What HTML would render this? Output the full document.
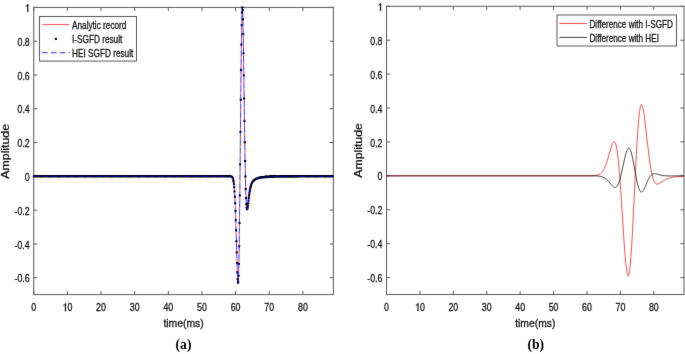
<!DOCTYPE html>
<html><head><meta charset="utf-8"><style>
html,body{margin:0;padding:0;background:#fff;}
svg{display:block;}
text{font-family:"Liberation Sans",sans-serif;fill:#111;stroke:#111;stroke-width:0.28px;}
text.lab{font-family:"Liberation Serif",serif;font-weight:bold;fill:#000;stroke:none;}
</style></head><body>
<svg width="685" height="354" viewBox="0 0 685 354">
<defs><filter id="sm" filterUnits="userSpaceOnUse" x="0" y="0" width="685" height="354" color-interpolation-filters="sRGB"><feConvolveMatrix order="3" kernelMatrix="0.0049 0.0602 0.0049 0.0602 0.7396 0.0602 0.0049 0.0602 0.0049" preserveAlpha="false" edgeMode="duplicate"/></filter></defs><g filter="url(#sm)">
<rect width="685" height="354" fill="#fff"/>
<path d="M33.75 294.6V291M33.75 7.4V11M67.39 294.6V291M67.39 7.4V11M101.04 294.6V291M101.04 7.4V11M134.68 294.6V291M134.68 7.4V11M168.33 294.6V291M168.33 7.4V11M201.97 294.6V291M201.97 7.4V11M235.61 294.6V291M235.61 7.4V11M269.26 294.6V291M269.26 7.4V11M302.9 294.6V291M302.9 7.4V11M33.75 277.71H37.35M333.35 277.71H329.75M33.75 243.92H37.35M333.35 243.92H329.75M33.75 210.13H37.35M333.35 210.13H329.75M33.75 176.34H37.35M333.35 176.34H329.75M33.75 142.55H37.35M333.35 142.55H329.75M33.75 108.76H37.35M333.35 108.76H329.75M33.75 74.98H37.35M333.35 74.98H329.75M33.75 41.19H37.35M333.35 41.19H329.75M33.75 7.4H37.35M333.35 7.4H329.75" stroke="#5a5a5a" stroke-width="1.0" fill="none"/>
<rect x="33.75" y="7.4" width="299.6" height="287.2" stroke="#5a5a5a" stroke-width="1.0" fill="none"/>
<text transform="translate(33.75 311.2) scale(0.79 1)" text-anchor="middle" font-size="11.2">0</text>
<g transform="translate(67.39 311.2) scale(0.79 1)"><path d="M-1.83,0.00 -1.83,-8.02 -2.67,-8.02 -2.87,-7.53 -3.26,-7.03 -3.99,-6.61 -5.00,-6.25 -5.00,-5.51 -4.10,-5.85 -3.48,-6.18 -3.04,-6.61 -3.04,0.00Z" fill="#111" stroke="#111" stroke-width="0.28"/><text x="0" y="0" font-size="11.2">0</text></g>
<text transform="translate(101.04 311.2) scale(0.79 1)" text-anchor="middle" font-size="11.2">20</text>
<text transform="translate(134.68 311.2) scale(0.79 1)" text-anchor="middle" font-size="11.2">30</text>
<text transform="translate(168.33 311.2) scale(0.79 1)" text-anchor="middle" font-size="11.2">40</text>
<text transform="translate(201.97 311.2) scale(0.79 1)" text-anchor="middle" font-size="11.2">50</text>
<text transform="translate(235.61 311.2) scale(0.79 1)" text-anchor="middle" font-size="11.2">60</text>
<text transform="translate(269.26 311.2) scale(0.79 1)" text-anchor="middle" font-size="11.2">70</text>
<text transform="translate(302.9 311.2) scale(0.79 1)" text-anchor="middle" font-size="11.2">80</text>
<text transform="translate(29.75 282.36) scale(0.79 1)" text-anchor="end" font-size="11.2">-0.6</text>
<text transform="translate(29.75 248.57) scale(0.79 1)" text-anchor="end" font-size="11.2">-0.4</text>
<text transform="translate(29.75 214.78) scale(0.79 1)" text-anchor="end" font-size="11.2">-0.2</text>
<text transform="translate(29.75 180.99) scale(0.79 1)" text-anchor="end" font-size="11.2">0</text>
<text transform="translate(29.75 147.2) scale(0.79 1)" text-anchor="end" font-size="11.2">0.2</text>
<text transform="translate(29.75 113.41) scale(0.79 1)" text-anchor="end" font-size="11.2">0.4</text>
<text transform="translate(29.75 79.63) scale(0.79 1)" text-anchor="end" font-size="11.2">0.6</text>
<text transform="translate(29.75 45.84) scale(0.79 1)" text-anchor="end" font-size="11.2">0.8</text>
<g transform="translate(29.75 12.05) scale(0.79 1)"><path d="M-1.83,0.00 -1.83,-8.02 -2.67,-8.02 -2.87,-7.53 -3.26,-7.03 -3.99,-6.61 -5.00,-6.25 -5.00,-5.51 -4.10,-5.85 -3.48,-6.18 -3.04,-6.61 -3.04,0.00Z" fill="#111" stroke="#111" stroke-width="0.28"/></g>
<text transform="translate(183.55 327.1) scale(0.9 1)" text-anchor="middle" font-size="11.5">time(ms)</text>
<text transform="translate(9 151.3) rotate(-90) scale(1 0.86)" text-anchor="middle" font-size="12.3">Amplitude</text>
<path d="M33.75,176.34 228.48,176.34 230.63,176.40 231.17,176.50 231.64,176.68 231.98,176.92 232.25,177.21 232.72,178.04 233.12,179.28 233.46,180.84 233.80,183.09 234.13,186.20 234.67,193.53 235.14,202.84 235.61,215.15 237.36,273.23 237.70,280.21 237.90,282.43 238.04,282.93 238.17,282.55 238.24,282.01 238.37,280.19 238.64,273.43 238.91,262.31 239.18,246.80 239.72,203.93 240.86,87.64 241.33,46.64 241.60,28.83 241.87,16.13 242.07,10.25 242.21,8.11 242.34,7.40 242.41,7.57 242.54,8.94 242.75,13.43 243.22,33.85 244.77,141.72 245.44,178.50 245.77,191.23 246.11,200.22 246.51,206.59 246.72,208.26 246.92,209.08 247.05,209.24 247.25,208.97 247.59,207.50 248.00,204.67 249.07,195.77 249.61,191.98 250.35,187.98 251.16,184.98 251.63,183.72 252.17,182.60 252.71,181.71 253.38,180.86 254.12,180.13 254.93,179.53 255.87,178.98 256.94,178.51 258.09,178.14 259.43,177.80 262.73,177.29 267.04,176.93 272.82,176.69 280.56,176.54 291.53,176.45 333.18,176.37" stroke="#ff0000" stroke-width="0.75" stroke-dasharray="0 5.8 3.06 0" fill="none"/>
<path d="M33.84 176.34h0M34.15 176.34h0M34.46 176.34h0M34.77 176.34h0M35.08 176.34h0M35.39 176.34h0M35.70 176.34h0M36.01 176.34h0M36.32 176.34h0M36.63 176.34h0M36.94 176.34h0M37.25 176.34h0M37.56 176.34h0M37.87 176.34h0M38.18 176.34h0M38.49 176.34h0M38.80 176.34h0M39.11 176.34h0M39.42 176.34h0M39.73 176.34h0M40.04 176.34h0M40.35 176.34h0M40.66 176.34h0M40.97 176.34h0M41.28 176.34h0M41.59 176.34h0M41.90 176.34h0M42.21 176.34h0M42.52 176.34h0M42.83 176.34h0M43.14 176.34h0M43.45 176.34h0M43.77 176.34h0M44.08 176.34h0M44.39 176.34h0M44.70 176.34h0M45.01 176.34h0M45.32 176.34h0M45.63 176.34h0M45.94 176.34h0M46.25 176.34h0M46.56 176.34h0M46.87 176.34h0M47.18 176.34h0M47.49 176.34h0M47.80 176.34h0M48.11 176.34h0M48.42 176.34h0M48.73 176.34h0M49.04 176.34h0M49.35 176.34h0M49.66 176.34h0M49.97 176.34h0M50.28 176.34h0M50.59 176.34h0M50.90 176.34h0M51.21 176.34h0M51.52 176.34h0M51.83 176.34h0M52.14 176.34h0M52.45 176.34h0M52.76 176.34h0M53.07 176.34h0M53.38 176.34h0M53.69 176.34h0M54.00 176.34h0M54.31 176.34h0M54.62 176.34h0M54.93 176.34h0M55.24 176.34h0M55.55 176.34h0M55.86 176.34h0M56.17 176.34h0M56.48 176.34h0M56.79 176.34h0M57.10 176.34h0M57.41 176.34h0M57.72 176.34h0M58.03 176.34h0M58.34 176.34h0M58.65 176.34h0M58.96 176.34h0M59.28 176.34h0M59.59 176.34h0M59.90 176.34h0M60.21 176.34h0M60.52 176.34h0M60.83 176.34h0M61.14 176.34h0M61.45 176.34h0M61.76 176.34h0M62.07 176.34h0M62.38 176.34h0M62.69 176.34h0M63.00 176.34h0M63.31 176.34h0M63.62 176.34h0M63.93 176.34h0M64.24 176.34h0M64.55 176.34h0M64.86 176.34h0M65.17 176.34h0M65.48 176.34h0M65.79 176.34h0M66.10 176.34h0M66.41 176.34h0M66.72 176.34h0M67.03 176.34h0M67.34 176.34h0M67.65 176.34h0M67.96 176.34h0M68.27 176.34h0M68.58 176.34h0M68.89 176.34h0M69.20 176.34h0M69.51 176.34h0M69.82 176.34h0M70.13 176.34h0M70.44 176.34h0M70.75 176.34h0M71.06 176.34h0M71.37 176.34h0M71.68 176.34h0M71.99 176.34h0M72.30 176.34h0M72.61 176.34h0M72.92 176.34h0M73.23 176.34h0M73.54 176.34h0M73.85 176.34h0M74.16 176.34h0M74.47 176.34h0M74.78 176.34h0M75.10 176.34h0M75.41 176.34h0M75.72 176.34h0M76.03 176.34h0M76.34 176.34h0M76.65 176.34h0M76.96 176.34h0M77.27 176.34h0M77.58 176.34h0M77.89 176.34h0M78.20 176.34h0M78.51 176.34h0M78.82 176.34h0M79.13 176.34h0M79.44 176.34h0M79.75 176.34h0M80.06 176.34h0M80.37 176.34h0M80.68 176.34h0M80.99 176.34h0M81.30 176.34h0M81.61 176.34h0M81.92 176.34h0M82.23 176.34h0M82.54 176.34h0M82.85 176.34h0M83.16 176.34h0M83.47 176.34h0M83.78 176.34h0M84.09 176.34h0M84.40 176.34h0M84.71 176.34h0M85.02 176.34h0M85.33 176.34h0M85.64 176.34h0M85.95 176.34h0M86.26 176.34h0M86.57 176.34h0M86.88 176.34h0M87.19 176.34h0M87.50 176.34h0M87.81 176.34h0M88.12 176.34h0M88.43 176.34h0M88.74 176.34h0M89.05 176.34h0M89.36 176.34h0M89.67 176.34h0M89.98 176.34h0M90.29 176.34h0M90.61 176.34h0M90.92 176.34h0M91.23 176.34h0M91.54 176.34h0M91.85 176.34h0M92.16 176.34h0M92.47 176.34h0M92.78 176.34h0M93.09 176.34h0M93.40 176.34h0M93.71 176.34h0M94.02 176.34h0M94.33 176.34h0M94.64 176.34h0M94.95 176.34h0M95.26 176.34h0M95.57 176.34h0M95.88 176.34h0M96.19 176.34h0M96.50 176.34h0M96.81 176.34h0M97.12 176.34h0M97.43 176.34h0M97.74 176.34h0M98.05 176.34h0M98.36 176.34h0M98.67 176.34h0M98.98 176.34h0M99.29 176.34h0M99.60 176.34h0M99.91 176.34h0M100.22 176.34h0M100.53 176.34h0M100.84 176.34h0M101.15 176.34h0M101.46 176.34h0M101.77 176.34h0M102.08 176.34h0M102.39 176.34h0M102.70 176.34h0M103.01 176.34h0M103.32 176.34h0M103.63 176.34h0M103.94 176.34h0M104.25 176.34h0M104.56 176.34h0M104.87 176.34h0M105.18 176.34h0M105.49 176.34h0M105.80 176.34h0M106.11 176.34h0M106.43 176.34h0M106.74 176.34h0M107.05 176.34h0M107.36 176.34h0M107.67 176.34h0M107.98 176.34h0M108.29 176.34h0M108.60 176.34h0M108.91 176.34h0M109.22 176.34h0M109.53 176.34h0M109.84 176.34h0M110.15 176.34h0M110.46 176.34h0M110.77 176.34h0M111.08 176.34h0M111.39 176.34h0M111.70 176.34h0M112.01 176.34h0M112.32 176.34h0M112.63 176.34h0M112.94 176.34h0M113.25 176.34h0M113.56 176.34h0M113.87 176.34h0M114.18 176.34h0M114.49 176.34h0M114.80 176.34h0M115.11 176.34h0M115.42 176.34h0M115.73 176.34h0M116.04 176.34h0M116.35 176.34h0M116.66 176.34h0M116.97 176.34h0M117.28 176.34h0M117.59 176.34h0M117.90 176.34h0M118.21 176.34h0M118.52 176.34h0M118.83 176.34h0M119.14 176.34h0M119.45 176.34h0M119.76 176.34h0M120.07 176.34h0M120.38 176.34h0M120.69 176.34h0M121.00 176.34h0M121.31 176.34h0M121.62 176.34h0M121.94 176.34h0M122.25 176.34h0M122.56 176.34h0M122.87 176.34h0M123.18 176.34h0M123.49 176.34h0M123.80 176.34h0M124.11 176.34h0M124.42 176.34h0M124.73 176.34h0M125.04 176.34h0M125.35 176.34h0M125.66 176.34h0M125.97 176.34h0M126.28 176.34h0M126.59 176.34h0M126.90 176.34h0M127.21 176.34h0M127.52 176.34h0M127.83 176.34h0M128.14 176.34h0M128.45 176.34h0M128.76 176.34h0M129.07 176.34h0M129.38 176.34h0M129.69 176.34h0M130.00 176.34h0M130.31 176.34h0M130.62 176.34h0M130.93 176.34h0M131.24 176.34h0M131.55 176.34h0M131.86 176.34h0M132.17 176.34h0M132.48 176.34h0M132.79 176.34h0M133.10 176.34h0M133.41 176.34h0M133.72 176.34h0M134.03 176.34h0M134.34 176.34h0M134.65 176.34h0M134.96 176.34h0M135.27 176.34h0M135.58 176.34h0M135.89 176.34h0M136.20 176.34h0M136.51 176.34h0M136.82 176.34h0M137.13 176.34h0M137.44 176.34h0M137.76 176.34h0M138.07 176.34h0M138.38 176.34h0M138.69 176.34h0M139.00 176.34h0M139.31 176.34h0M139.62 176.34h0M139.93 176.34h0M140.24 176.34h0M140.55 176.34h0M140.86 176.34h0M141.17 176.34h0M141.48 176.34h0M141.79 176.34h0M142.10 176.34h0M142.41 176.34h0M142.72 176.34h0M143.03 176.34h0M143.34 176.34h0M143.65 176.34h0M143.96 176.34h0M144.27 176.34h0M144.58 176.34h0M144.89 176.34h0M145.20 176.34h0M145.51 176.34h0M145.82 176.34h0M146.13 176.34h0M146.44 176.34h0M146.75 176.34h0M147.06 176.34h0M147.37 176.34h0M147.68 176.34h0M147.99 176.34h0M148.30 176.34h0M148.61 176.34h0M148.92 176.34h0M149.23 176.34h0M149.54 176.34h0M149.85 176.34h0M150.16 176.34h0M150.47 176.34h0M150.78 176.34h0M151.09 176.34h0M151.40 176.34h0M151.71 176.34h0M152.02 176.34h0M152.33 176.34h0M152.64 176.34h0M152.95 176.34h0M153.26 176.34h0M153.58 176.34h0M153.89 176.34h0M154.20 176.34h0M154.51 176.34h0M154.82 176.34h0M155.13 176.34h0M155.44 176.34h0M155.75 176.34h0M156.06 176.34h0M156.37 176.34h0M156.68 176.34h0M156.99 176.34h0M157.30 176.34h0M157.61 176.34h0M157.92 176.34h0M158.23 176.34h0M158.54 176.34h0M158.85 176.34h0M159.16 176.34h0M159.47 176.34h0M159.78 176.34h0M160.09 176.34h0M160.40 176.34h0M160.71 176.34h0M161.02 176.34h0M161.33 176.34h0M161.64 176.34h0M161.95 176.34h0M162.26 176.34h0M162.57 176.34h0M162.88 176.34h0M163.19 176.34h0M163.50 176.34h0M163.81 176.34h0M164.12 176.34h0M164.43 176.34h0M164.74 176.34h0M165.05 176.34h0M165.36 176.34h0M165.67 176.34h0M165.98 176.34h0M166.29 176.34h0M166.60 176.34h0M166.91 176.34h0M167.22 176.34h0M167.53 176.34h0M167.84 176.34h0M168.15 176.34h0M168.46 176.34h0M168.77 176.34h0M169.09 176.34h0M169.40 176.34h0M169.71 176.34h0M170.02 176.34h0M170.33 176.34h0M170.64 176.34h0M170.95 176.34h0M171.26 176.34h0M171.57 176.34h0M171.88 176.34h0M172.19 176.34h0M172.50 176.34h0M172.81 176.34h0M173.12 176.34h0M173.43 176.34h0M173.74 176.34h0M174.05 176.34h0M174.36 176.34h0M174.67 176.34h0M174.98 176.34h0M175.29 176.34h0M175.60 176.34h0M175.91 176.34h0M176.22 176.34h0M176.53 176.34h0M176.84 176.34h0M177.15 176.34h0M177.46 176.34h0M177.77 176.34h0M178.08 176.34h0M178.39 176.34h0M178.70 176.34h0M179.01 176.34h0M179.32 176.34h0M179.63 176.34h0M179.94 176.34h0M180.25 176.34h0M180.56 176.34h0M180.87 176.34h0M181.18 176.34h0M181.49 176.34h0M181.80 176.34h0M182.11 176.34h0M182.42 176.34h0M182.73 176.34h0M183.04 176.34h0M183.35 176.34h0M183.66 176.34h0M183.97 176.34h0M184.28 176.34h0M184.59 176.34h0M184.91 176.34h0M185.22 176.34h0M185.53 176.34h0M185.84 176.34h0M186.15 176.34h0M186.46 176.34h0M186.77 176.34h0M187.08 176.34h0M187.39 176.34h0M187.70 176.34h0M188.01 176.34h0M188.32 176.34h0M188.63 176.34h0M188.94 176.34h0M189.25 176.34h0M189.56 176.34h0M189.87 176.34h0M190.18 176.34h0M190.49 176.34h0M190.80 176.34h0M191.11 176.34h0M191.42 176.34h0M191.73 176.34h0M192.04 176.34h0M192.35 176.34h0M192.66 176.34h0M192.97 176.34h0M193.28 176.34h0M193.59 176.34h0M193.90 176.34h0M194.21 176.34h0M194.52 176.34h0M194.83 176.34h0M195.14 176.34h0M195.45 176.34h0M195.76 176.34h0M196.07 176.34h0M196.38 176.34h0M196.69 176.34h0M197.00 176.34h0M197.31 176.34h0M197.62 176.34h0M197.93 176.34h0M198.24 176.34h0M198.55 176.34h0M198.86 176.34h0M199.17 176.34h0M199.48 176.34h0M199.79 176.34h0M200.10 176.34h0M200.42 176.34h0M200.73 176.34h0M201.04 176.34h0M201.35 176.34h0M201.66 176.34h0M201.97 176.34h0M202.28 176.34h0M202.59 176.34h0M202.90 176.34h0M203.21 176.34h0M203.52 176.34h0M203.83 176.34h0M204.14 176.34h0M204.45 176.34h0M204.76 176.34h0M205.07 176.34h0M205.38 176.34h0M205.69 176.34h0M206.00 176.34h0M206.31 176.34h0M206.62 176.34h0M206.93 176.34h0M207.24 176.34h0M207.55 176.34h0M207.86 176.34h0M208.17 176.34h0M208.48 176.34h0M208.79 176.34h0M209.10 176.34h0M209.41 176.34h0M209.72 176.34h0M210.03 176.34h0M210.34 176.34h0M210.65 176.34h0M210.96 176.34h0M211.27 176.34h0M211.58 176.34h0M211.89 176.34h0M212.20 176.34h0M212.51 176.34h0M212.82 176.34h0M213.13 176.34h0M213.44 176.34h0M213.75 176.34h0M214.06 176.34h0M214.37 176.34h0M214.68 176.34h0M214.99 176.34h0M215.30 176.34h0M215.61 176.34h0M215.92 176.34h0M216.24 176.34h0M216.55 176.34h0M216.86 176.34h0M217.17 176.34h0M217.48 176.34h0M217.79 176.34h0M218.10 176.34h0M218.41 176.34h0M218.72 176.34h0M219.03 176.34h0M219.34 176.34h0M219.65 176.34h0M219.96 176.34h0M220.27 176.34h0M220.58 176.34h0M220.89 176.34h0M221.20 176.34h0M221.51 176.34h0M221.82 176.34h0M222.13 176.34h0M222.44 176.34h0M222.75 176.34h0M223.06 176.34h0M223.37 176.34h0M223.68 176.34h0M223.99 176.34h0M224.30 176.34h0M224.61 176.34h0M224.92 176.34h0M225.23 176.34h0M225.54 176.34h0M225.85 176.34h0M226.16 176.34h0M226.47 176.34h0M226.78 176.34h0M227.09 176.34h0M227.40 176.34h0M227.71 176.34h0M228.02 176.34h0M228.33 176.34h0M228.64 176.34h0M228.95 176.34h0M229.26 176.35h0M229.57 176.35h0M229.88 176.36h0M230.19 176.37h0M230.50 176.39h0M230.81 176.42h0M231.12 176.48h0M231.43 176.58h0M231.75 176.74h0M232.06 176.99h0M232.37 177.37h0M232.68 177.94h0M232.99 178.79h0M233.30 180.00h0M233.61 181.72h0M233.92 184.08h0M234.23 187.24h0M234.54 191.38h0M234.85 196.65h0M235.16 203.17h0M235.47 211.00h0M235.78 220.10h0M236.09 230.28h0M236.40 241.21h0M236.71 252.37h0M237.02 263.03h0M237.33 272.31h0M237.64 279.22h0M237.95 282.70h0M238.26 281.79h0M238.57 275.67h0M238.88 263.84h0M239.19 246.18h0M239.50 223.06h0M239.81 195.34h0M240.12 164.36h0M240.43 131.83h0M240.74 99.70h0M241.05 70.00h0M241.36 44.60h0M241.67 25.08h0M241.98 12.54h0M242.29 7.50h0M242.60 9.92h0M242.91 19.15h0M243.22 34.11h0M243.53 53.37h0M243.84 75.33h0M244.15 98.40h0M244.46 121.10h0M244.77 142.24h0M245.08 160.90h0M245.39 176.53h0M245.70 188.88h0M246.01 198.00h0M246.32 204.13h0M246.63 207.69h0M246.94 209.14h0M247.25 208.97h0M247.57 207.65h0M247.88 205.59h0M248.19 203.11h0M248.50 200.48h0M248.81 197.88h0M249.12 195.43h0M249.43 193.19h0M249.74 191.20h0M250.05 189.45h0M250.36 187.95h0M250.67 186.65h0M250.98 185.55h0M251.29 184.61h0M251.60 183.80h0M251.91 183.10h0M252.22 182.50h0M252.53 181.98h0M252.84 181.52h0M253.15 181.12h0M253.46 180.77h0M253.77 180.45h0M254.08 180.17h0M254.39 179.91h0M254.70 179.68h0M255.01 179.47h0M255.32 179.28h0M255.63 179.11h0M255.94 178.95h0M256.25 178.80h0M256.56 178.67h0M256.87 178.54h0M257.18 178.43h0M257.49 178.32h0M257.80 178.22h0M258.11 178.13h0M258.42 178.05h0M258.73 177.97h0M259.04 177.89h0M259.35 177.82h0M259.66 177.76h0M259.97 177.70h0M260.28 177.64h0M260.59 177.58h0M260.90 177.53h0M261.21 177.48h0M261.52 177.44h0M261.83 177.40h0M262.14 177.36h0M262.45 177.32h0M262.76 177.28h0M263.08 177.25h0M263.39 177.22h0M263.70 177.18h0M264.01 177.15h0M264.32 177.13h0M264.63 177.10h0M264.94 177.07h0M265.25 177.05h0M265.56 177.03h0M265.87 177.01h0M266.18 176.98h0M266.49 176.96h0M266.80 176.95h0M267.11 176.93h0M267.42 176.91h0M267.73 176.89h0M268.04 176.88h0M268.35 176.86h0M268.66 176.85h0M268.97 176.83h0M269.28 176.82h0M269.59 176.80h0M269.90 176.79h0M270.21 176.78h0M270.52 176.77h0M270.83 176.76h0M271.14 176.75h0M271.45 176.74h0M271.76 176.73h0M272.07 176.72h0M272.38 176.71h0M272.69 176.70h0M273.00 176.69h0M273.31 176.68h0M273.62 176.67h0M273.93 176.66h0M274.24 176.66h0M274.55 176.65h0M274.86 176.64h0M275.17 176.64h0M275.48 176.63h0M275.79 176.62h0M276.10 176.62h0M276.41 176.61h0M276.72 176.60h0M277.03 176.60h0M277.34 176.59h0M277.65 176.59h0M277.96 176.58h0M278.27 176.58h0M278.58 176.57h0M278.90 176.57h0M279.21 176.56h0M279.52 176.56h0M279.83 176.55h0M280.14 176.55h0M280.45 176.55h0M280.76 176.54h0M281.07 176.54h0M281.38 176.53h0M281.69 176.53h0M282.00 176.53h0M282.31 176.52h0M282.62 176.52h0M282.93 176.52h0M283.24 176.51h0M283.55 176.51h0M283.86 176.51h0M284.17 176.50h0M284.48 176.50h0M284.79 176.50h0M285.10 176.50h0M285.41 176.49h0M285.72 176.49h0M286.03 176.49h0M286.34 176.49h0M286.65 176.48h0M286.96 176.48h0M287.27 176.48h0M287.58 176.48h0M287.89 176.47h0M288.20 176.47h0M288.51 176.47h0M288.82 176.47h0M289.13 176.47h0M289.44 176.46h0M289.75 176.46h0M290.06 176.46h0M290.37 176.46h0M290.68 176.46h0M290.99 176.45h0M291.30 176.45h0M291.61 176.45h0M291.92 176.45h0M292.23 176.45h0M292.54 176.45h0M292.85 176.44h0M293.16 176.44h0M293.47 176.44h0M293.78 176.44h0M294.09 176.44h0M294.41 176.44h0M294.72 176.44h0M295.03 176.43h0M295.34 176.43h0M295.65 176.43h0M295.96 176.43h0M296.27 176.43h0M296.58 176.43h0M296.89 176.43h0M297.20 176.43h0M297.51 176.42h0M297.82 176.42h0M298.13 176.42h0M298.44 176.42h0M298.75 176.42h0M299.06 176.42h0M299.37 176.42h0M299.68 176.42h0M299.99 176.42h0M300.30 176.41h0M300.61 176.41h0M300.92 176.41h0M301.23 176.41h0M301.54 176.41h0M301.85 176.41h0M302.16 176.41h0M302.47 176.41h0M302.78 176.41h0M303.09 176.41h0M303.40 176.41h0M303.71 176.41h0M304.02 176.40h0M304.33 176.40h0M304.64 176.40h0M304.95 176.40h0M305.26 176.40h0M305.57 176.40h0M305.88 176.40h0M306.19 176.40h0M306.50 176.40h0M306.81 176.40h0M307.12 176.40h0M307.43 176.40h0M307.74 176.40h0M308.05 176.40h0M308.36 176.39h0M308.67 176.39h0M308.98 176.39h0M309.29 176.39h0M309.60 176.39h0M309.91 176.39h0M310.23 176.39h0M310.54 176.39h0M310.85 176.39h0M311.16 176.39h0M311.47 176.39h0M311.78 176.39h0M312.09 176.39h0M312.40 176.39h0M312.71 176.39h0M313.02 176.39h0M313.33 176.39h0M313.64 176.39h0M313.95 176.39h0M314.26 176.38h0M314.57 176.38h0M314.88 176.38h0M315.19 176.38h0M315.50 176.38h0M315.81 176.38h0M316.12 176.38h0M316.43 176.38h0M316.74 176.38h0M317.05 176.38h0M317.36 176.38h0M317.67 176.38h0M317.98 176.38h0M318.29 176.38h0M318.60 176.38h0M318.91 176.38h0M319.22 176.38h0M319.53 176.38h0M319.84 176.38h0M320.15 176.38h0M320.46 176.38h0M320.77 176.38h0M321.08 176.38h0M321.39 176.38h0M321.70 176.38h0M322.01 176.38h0M322.32 176.37h0M322.63 176.37h0M322.94 176.37h0M323.25 176.37h0M323.56 176.37h0M323.87 176.37h0M324.18 176.37h0M324.49 176.37h0M324.80 176.37h0M325.11 176.37h0M325.42 176.37h0M325.74 176.37h0M326.05 176.37h0M326.36 176.37h0M326.67 176.37h0M326.98 176.37h0M327.29 176.37h0M327.60 176.37h0M327.91 176.37h0M328.22 176.37h0M328.53 176.37h0M328.84 176.37h0M329.15 176.37h0M329.46 176.37h0M329.77 176.37h0M330.08 176.37h0M330.39 176.37h0M330.70 176.37h0M331.01 176.37h0M331.32 176.37h0M331.63 176.37h0M331.94 176.37h0M332.25 176.37h0M332.56 176.37h0M332.87 176.37h0" stroke="#000" stroke-width="2.4" stroke-linecap="round" fill="none"/>
<path d="M33.75,176.34 228.48,176.34 230.63,176.40 231.17,176.50 231.64,176.68 231.98,176.92 232.25,177.21 232.72,178.04 233.12,179.28 233.46,180.84 233.80,183.09 234.13,186.20 234.67,193.53 235.14,202.84 235.61,215.15 237.36,273.23 237.70,280.21 237.90,282.43 238.04,282.93 238.17,282.55 238.24,282.01 238.37,280.19 238.64,273.43 238.91,262.31 239.18,246.80 239.72,203.93 240.86,87.64 241.33,46.64 241.60,28.83 241.87,16.13 242.07,10.25 242.21,8.11 242.34,7.40 242.41,7.57 242.54,8.94 242.75,13.43 243.22,33.85 244.77,141.72 245.44,178.50 245.77,191.23 246.11,200.22 246.51,206.59 246.72,208.26 246.92,209.08 247.05,209.24 247.25,208.97 247.59,207.50 248.00,204.67 249.07,195.77 249.61,191.98 250.35,187.98 251.16,184.98 251.63,183.72 252.17,182.60 252.71,181.71 253.38,180.86 254.12,180.13 254.93,179.53 255.87,178.98 256.94,178.51 258.09,178.14 259.43,177.80 262.73,177.29 267.04,176.93 272.82,176.69 280.56,176.54 291.53,176.45 333.18,176.37" stroke="#0000ff" stroke-width="0.8" stroke-dasharray="5.8 3.06" fill="none"/>
<rect x="39.5" y="16.5" width="97" height="44.6" fill="#fff" stroke="#5a5a5a" stroke-width="1.0"/>
<path d="M42.2 24.5H69.5" stroke="#ff5a5a" stroke-width="1.1"/>
<path d="M55.9 38.9h0" stroke="#000" stroke-width="2.4" stroke-linecap="round"/>
<path d="M42.0 52.6H70.0" stroke="#5a5aff" stroke-width="1.1" stroke-dasharray="5.6 3.3"/>
<text transform="translate(72.0 28.8) scale(0.8 1)" font-size="10.3">Analytic record</text>
<text transform="translate(72.0 42.8) scale(0.8 1)" font-size="10.3">I-SGFD result</text>
<text transform="translate(72.0 56.8) scale(0.8 1)" font-size="10.3">HEI SGFD result</text>
<path d="M386.5 294.5V290.9M386.5 6.3V9.9M419.91 294.5V290.9M419.91 6.3V9.9M453.32 294.5V290.9M453.32 6.3V9.9M486.74 294.5V290.9M486.74 6.3V9.9M520.15 294.5V290.9M520.15 6.3V9.9M553.56 294.5V290.9M553.56 6.3V9.9M586.97 294.5V290.9M586.97 6.3V9.9M620.38 294.5V290.9M620.38 6.3V9.9M653.8 294.5V290.9M653.8 6.3V9.9M386.5 277.55H390.1M684 277.55H680.4M386.5 243.64H390.1M684 243.64H680.4M386.5 209.74H390.1M684 209.74H680.4M386.5 175.83H390.1M684 175.83H680.4M386.5 141.92H390.1M684 141.92H680.4M386.5 108.02H390.1M684 108.02H680.4M386.5 74.11H390.1M684 74.11H680.4M386.5 40.21H390.1M684 40.21H680.4M386.5 6.3H390.1M684 6.3H680.4" stroke="#5a5a5a" stroke-width="1.0" fill="none"/>
<rect x="386.5" y="6.3" width="297.5" height="288.2" stroke="#5a5a5a" stroke-width="1.0" fill="none"/>
<text transform="translate(386.5 311.1) scale(0.79 1)" text-anchor="middle" font-size="11.2">0</text>
<g transform="translate(419.91 311.1) scale(0.79 1)"><path d="M-1.83,0.00 -1.83,-8.02 -2.67,-8.02 -2.87,-7.53 -3.26,-7.03 -3.99,-6.61 -5.00,-6.25 -5.00,-5.51 -4.10,-5.85 -3.48,-6.18 -3.04,-6.61 -3.04,0.00Z" fill="#111" stroke="#111" stroke-width="0.28"/><text x="0" y="0" font-size="11.2">0</text></g>
<text transform="translate(453.32 311.1) scale(0.79 1)" text-anchor="middle" font-size="11.2">20</text>
<text transform="translate(486.74 311.1) scale(0.79 1)" text-anchor="middle" font-size="11.2">30</text>
<text transform="translate(520.15 311.1) scale(0.79 1)" text-anchor="middle" font-size="11.2">40</text>
<text transform="translate(553.56 311.1) scale(0.79 1)" text-anchor="middle" font-size="11.2">50</text>
<text transform="translate(586.97 311.1) scale(0.79 1)" text-anchor="middle" font-size="11.2">60</text>
<text transform="translate(620.38 311.1) scale(0.79 1)" text-anchor="middle" font-size="11.2">70</text>
<text transform="translate(653.8 311.1) scale(0.79 1)" text-anchor="middle" font-size="11.2">80</text>
<text transform="translate(382.5 282.2) scale(0.79 1)" text-anchor="end" font-size="11.2">-0.6</text>
<text transform="translate(382.5 248.29) scale(0.79 1)" text-anchor="end" font-size="11.2">-0.4</text>
<text transform="translate(382.5 214.39) scale(0.79 1)" text-anchor="end" font-size="11.2">-0.2</text>
<text transform="translate(382.5 180.48) scale(0.79 1)" text-anchor="end" font-size="11.2">0</text>
<text transform="translate(382.5 146.57) scale(0.79 1)" text-anchor="end" font-size="11.2">0.2</text>
<text transform="translate(382.5 112.67) scale(0.79 1)" text-anchor="end" font-size="11.2">0.4</text>
<text transform="translate(382.5 78.76) scale(0.79 1)" text-anchor="end" font-size="11.2">0.6</text>
<text transform="translate(382.5 44.86) scale(0.79 1)" text-anchor="end" font-size="11.2">0.8</text>
<g transform="translate(382.5 10.95) scale(0.79 1)"><path d="M-1.83,0.00 -1.83,-8.02 -2.67,-8.02 -2.87,-7.53 -3.26,-7.03 -3.99,-6.61 -5.00,-6.25 -5.00,-5.51 -4.10,-5.85 -3.48,-6.18 -3.04,-6.61 -3.04,0.00Z" fill="#111" stroke="#111" stroke-width="0.28"/></g>
<text transform="translate(535.25 327.1) scale(0.9 1)" text-anchor="middle" font-size="11.5">time(ms)</text>
<text transform="translate(361.7 150.45) rotate(-90) scale(1 0.86)" text-anchor="middle" font-size="12.3">Amplitude</text>
<path d="M386.50,175.83 586.04,175.83 592.18,175.75 594.06,175.65 595.59,175.48 597.00,175.20 598.20,174.82 599.27,174.33 600.27,173.69 601.21,172.90 602.07,171.96 602.94,170.79 603.74,169.48 604.48,168.06 605.21,166.42 605.95,164.57 606.75,162.29 608.09,158.01 610.83,148.43 612.03,144.83 612.70,143.30 613.30,142.33 613.83,141.87 614.10,141.80 614.37,141.85 614.64,142.03 614.90,142.34 615.44,143.39 615.97,145.05 616.44,147.04 616.98,149.97 617.44,153.12 618.38,161.08 619.38,172.01 620.38,185.15 621.39,200.00 623.86,238.82 624.59,249.32 625.26,257.80 626.00,265.57 626.73,271.36 627.13,273.56 627.47,274.85 627.80,275.62 628.00,275.82 628.14,275.85 628.34,275.73 628.47,275.54 628.80,274.67 629.14,273.25 629.54,270.82 630.21,265.06 630.94,256.41 631.68,245.58 632.55,230.49 635.95,161.88 636.82,145.99 637.56,134.15 638.43,122.47 639.29,113.62 639.70,110.54 640.16,107.75 640.56,106.05 641.03,104.84 641.30,104.52 641.43,104.45 641.63,104.47 641.90,104.71 642.24,105.33 642.84,107.31 643.50,110.63 644.17,114.94 644.84,120.02 648.38,151.21 649.32,158.66 650.25,165.20 651.26,171.07 652.33,175.99 652.86,177.94 653.39,179.58 653.93,180.92 654.53,182.10 655.27,183.13 655.67,183.53 656.07,183.81 656.87,184.11 657.34,184.14 657.81,184.09 658.61,183.83 659.61,183.31 663.35,180.76 665.22,179.64 667.09,178.76 669.03,178.07 671.64,177.43 674.78,176.95 678.65,176.59 683.53,176.34" stroke="#ff0000" stroke-width="0.7" fill="none"/>
<path d="M386.50,175.83 586.90,175.83 593.05,175.85 596.46,175.95 599.07,176.17 601.21,176.57 603.01,177.16 604.68,178.01 606.15,179.05 607.69,180.45 609.02,181.91 611.76,185.16 612.97,186.39 613.63,186.92 614.24,187.26 614.84,187.44 615.37,187.46 615.91,187.30 616.37,187.02 616.91,186.51 617.38,185.89 617.84,185.11 618.31,184.15 619.25,181.72 620.18,178.62 621.12,174.92 624.59,158.81 625.93,153.41 626.67,151.09 627.40,149.36 627.73,148.81 628.07,148.40 628.40,148.14 628.74,148.05 629.07,148.11 629.40,148.34 629.74,148.73 630.07,149.28 630.74,150.86 631.41,153.01 632.14,155.98 632.88,159.46 636.15,177.37 636.89,181.04 637.62,184.30 638.49,187.48 639.29,189.69 639.70,190.52 640.10,191.17 640.50,191.63 640.90,191.92 641.43,192.04 641.97,191.87 642.57,191.38 643.17,190.61 643.77,189.60 644.44,188.27 647.58,180.99 648.38,179.31 649.18,177.84 650.12,176.40 650.99,175.37 651.92,174.58 652.93,174.05 653.53,173.87 654.13,173.78 655.53,173.84 656.74,174.08 659.81,174.94 661.48,175.33 663.35,175.63 665.42,175.82 669.50,175.92 683.53,175.88" stroke="#000" stroke-width="0.7" fill="none"/>
<rect x="557" y="15" width="119.5" height="31" fill="#fff" stroke="#5a5a5a" stroke-width="1.0"/>
<path d="M559.5 23.4H586.9" stroke="#ff4040" stroke-width="1.0"/>
<path d="M559.5 37.4H586.9" stroke="#404040" stroke-width="1.0"/>
<text transform="translate(589.5 27.8) scale(0.7904 1)" font-size="10.3">Difference with I-SGFD</text>
<text transform="translate(589.5 41.8) scale(0.7904 1)" font-size="10.3">Difference with HEI</text>
<text x="183.5" y="349.0" text-anchor="middle" class="lab" font-size="13.6">(a)</text>
<text x="535.8" y="349.0" text-anchor="middle" class="lab" font-size="13.6">(b)</text>
</g>
</svg></body></html>
